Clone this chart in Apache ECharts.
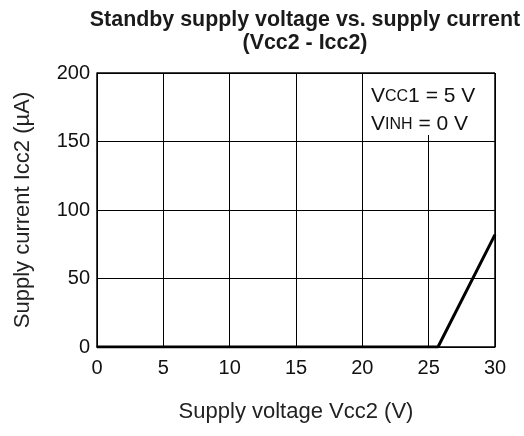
<!DOCTYPE html>
<html>
<head>
<meta charset="utf-8">
<script src="https://cdn.jsdelivr.net/npm/echarts@6/dist/echarts.min.js"></script>
<style>
  html, body { margin: 0; padding: 0; background: #fff; }
  #chart { width: 524px; height: 436px; }
</style>
</head>
<body>
<div id="chart"></div>
<script>
// Vcc2 (V) vs Icc2 (uA)
const voltage = [0, 25.7, 30];
const current = [0, 0, 82];
const xTicks = [0, 5, 10, 15, 20, 25, 30];
const yTicks = [0, 50, 100, 150, 200];

const chart = echarts.init(document.getElementById('chart'));
const font = 'Liberation Sans, Arial, sans-serif';

chart.setOption({
    animation: false,
    title: {
        text: 'Standby supply voltage vs. supply current\n(Vcc2 - Icc2)',
        left: 300,
        top: 4,
        textAlign: 'center',
        textStyle: {
            fontFamily: font,
            fontSize: 21.4,
            fontWeight: 'bold',
            color: '#1a1a1a',
            lineHeight: 23
        }
    },
    grid: { left: 97, right: 29, top: 73, bottom: 89 },
    xAxis: {
        type: 'value',
        min: 0, max: 30, interval: 5,
        name: 'Supply voltage Vcc2 (V)',
        nameLocation: 'middle',
        nameGap: 54,
        nameTextStyle: { fontFamily: font, fontSize: 22, color: '#222' },
        axisLine: { lineStyle: { color: '#000', width: 1.5 } },
        axisTick: { show: false },
        axisLabel: {
            fontFamily: font, fontSize: 20, color: '#111', margin: 11,
            formatter: v => (xTicks.includes(v) ? String(v) : '')
        },
        splitLine: { lineStyle: { color: '#000', width: 1 } }
    },
    yAxis: {
        type: 'value',
        min: 0, max: 200, interval: 50,
        name: 'Supply current Icc2 (\u00b5A)',
        nameLocation: 'middle',
        nameGap: 63,
        nameTextStyle: { fontFamily: font, fontSize: 22, color: '#222' },
        axisLine: { show: true, lineStyle: { color: '#000', width: 1.5 } },
        axisTick: { show: false },
        axisLabel: {
            fontFamily: font, fontSize: 20, color: '#111', margin: 7,
            formatter: v => (yTicks.includes(v) ? String(v) : '')
        },
        splitLine: { lineStyle: { color: '#000', width: 1 } }
    },
    series: [{
        type: 'line',
        data: voltage.map((v, i) => [v, current[i]]),
        symbol: 'none',
        lineStyle: { color: '#000', width: 3 },
        z: 5
    }, {
        // right/top frame
        type: 'line',
        data: [],
        markLine: {
            silent: true,
            symbol: 'none',
            label: { show: false },
            lineStyle: { color: '#000', width: 1.5, type: 'solid' },
            data: [{ xAxis: 30 }, { yAxis: 200 }]
        }
    }],
    graphic: [{
        type: 'rect',
        shape: { x: 364, y: 74, width: 130, height: 61 },
        style: { fill: '#fff' },
        z: 10
    }, {
        type: 'text',
        left: 371,
        top: 86,
        z: 11,
        style: {
            text: '{b|V}{s|CC}{b|1 = 5 V}\n{b|V}{s|INH}{b| = 0 V}',
            fontFamily: font,
            fill: '#111',
            rich: {
                b: { fontSize: 21, fontFamily: font, lineHeight: 28 },
                s: { fontSize: 16, fontFamily: font, lineHeight: 28 }
            }
        }
    }]
});
</script>
</body>
</html>
